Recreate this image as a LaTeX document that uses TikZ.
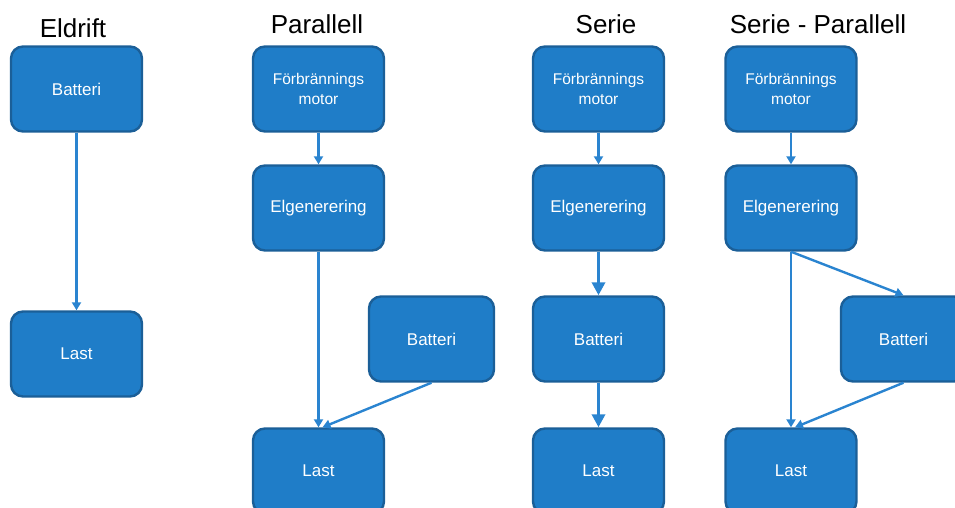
\documentclass[tikz,border=0pt]{standalone}
\usepackage{fontspec}
\setmainfont{Liberation Sans}
\usepackage{tikz}
\usetikzlibrary{arrows.meta}
\definecolor{boxfill}{HTML}{1F7DC8}
\definecolor{boxline}{HTML}{1B5F98}
\definecolor{flow}{HTML}{2A84D0}
\tikzset{
  block/.style={draw=boxline, fill=boxfill, line width=2.4pt, rounded corners=12pt,
    minimum width=131pt, minimum height=85pt, inner sep=0pt, align=center,
    text=white, font=\fontsize{17}{20}\selectfont},
  twoline/.style={block, font=\fontsize{15.5}{20}\selectfont},
  heading/.style={text=black, font=\fontsize{26}{30}\selectfont},
  thin/.style={draw=flow, line width=2.4pt, -{Triangle[length=8pt,width=9pt]}},
  thick/.style={draw=flow, line width=3.6pt, -{Triangle[length=13pt,width=13pt]}},
}

\begin{document}
\begin{tikzpicture}[x=1pt,y=-1pt]
  \useasboundingbox (0,0) rectangle (955,508);
  \clip (0,0) rectangle (955,508);
  % headings
  \node[heading] (t-eld) at (73,28) {Eldrift};
  \node[heading] (t-par) at (317,24) {Parallell};
  \node[heading] (t-ser) at (606,24) {Serie};
  \node[heading] (t-sp) at (818,24) {Serie - Parallell};

  % Eldrift
  \node[block] (eld-bat) at (76.5,89) {Batteri};
  \node[block] (eld-last) at (76.5,354) {Last};
  \draw[thin] (eld-bat) -- (eld-last);

  % Parallell
  \node[twoline] (par-motor) at (318.5,89) {Förbrännings\\motor};
  \node[block] (par-gen) at (318.5,208) {Elgenerering};
  \node[block, minimum width=125pt] (par-bat) at (431.5,339) {Batteri};
  \node[block] (par-last) at (318.5,471) {Last};
  \draw[thin] (par-motor) -- (par-gen);
  \draw[thin] (par-gen) -- (par-last);
  \draw[thin] (par-bat.south) -- ([xshift=4pt]par-last.north);

  % Serie
  \node[twoline] (ser-motor) at (598.5,89) {Förbrännings\\motor};
  \node[block] (ser-gen) at (598.5,208) {Elgenerering};
  \node[block] (ser-bat) at (598.5,339) {Batteri};
  \node[block] (ser-last) at (598.5,471) {Last};
  \draw[thin] (ser-motor) -- (ser-gen);
  \draw[thick] (ser-gen) -- (ser-bat);
  \draw[thick] (ser-bat) -- (ser-last);

  % Serie - Parallell
  \node[twoline] (sp-motor) at (791,89) {Förbrännings\\motor};
  \node[block] (sp-gen) at (791,208) {Elgenerering};
  \node[block, minimum width=125pt] (sp-bat) at (903.5,339) {Batteri};
  \node[block] (sp-last) at (791,471) {Last};
  \draw[thin] (sp-motor) -- (sp-gen);
  \draw[thin] (sp-gen.south) -- (sp-last.north);
  \draw[thin] (sp-gen.south) -- (sp-bat.north);
  \draw[thin] (sp-bat.south) -- ([xshift=4pt]sp-last.north);
\end{tikzpicture}
\end{document}
